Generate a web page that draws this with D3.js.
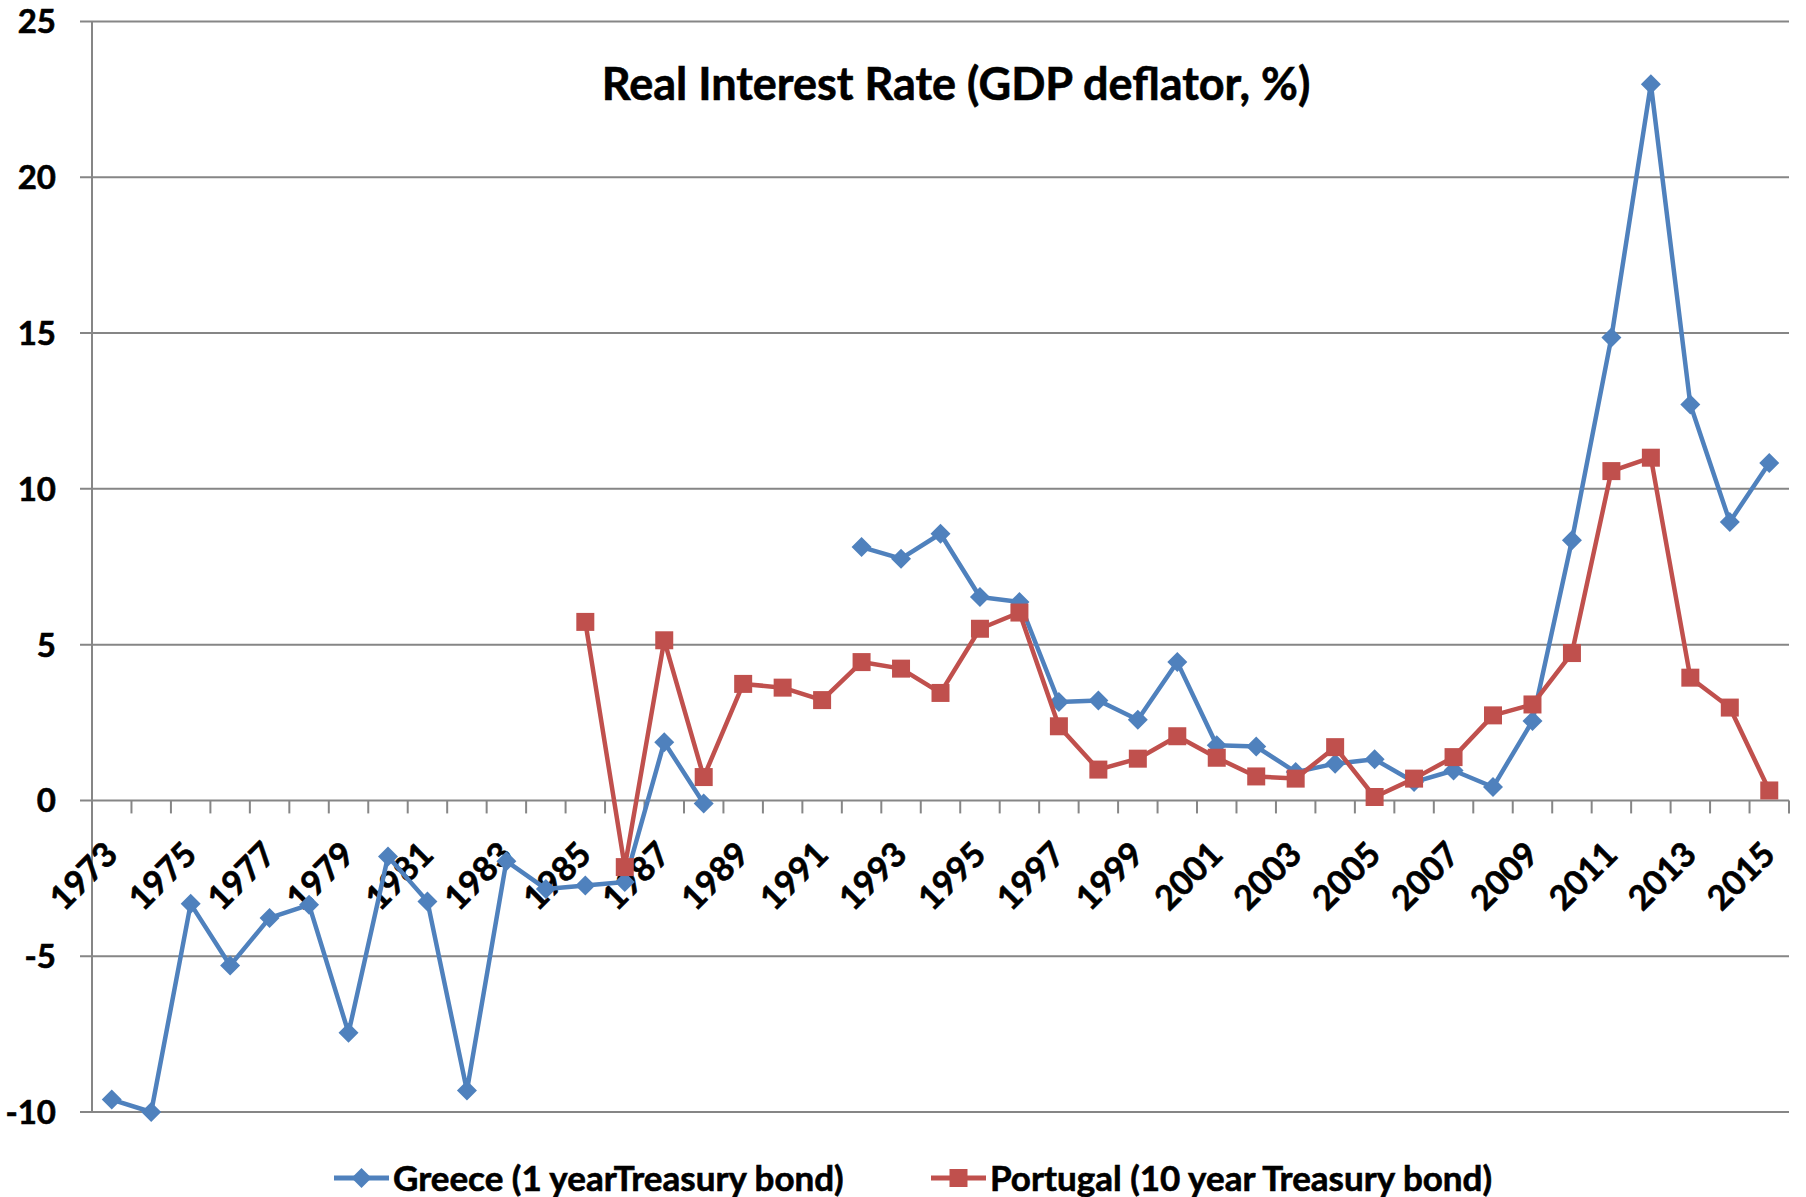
<!DOCTYPE html>
<html>
<head>
<meta charset="utf-8">
<script src="https://cdn.jsdelivr.net/npm/d3@7"></script>
<style>
  body { margin: 0; background: #fff; }
  text { font-family: Lato, "Open Sans", sans-serif; font-weight: 700; fill: #000; stroke: #000; stroke-width: 0.6px; }
</style>
</head>
<body>
<svg id="chart"></svg>
<script>
// Real interest rate, GDP deflator based (%)
var years = [1973, 1974, 1975, 1976, 1977, 1978, 1979, 1980, 1981, 1982,
             1983, 1984, 1985, 1986, 1987, 1988, 1989, 1990, 1991, 1992,
             1993, 1994, 1995, 1996, 1997, 1998, 1999, 2000, 2001, 2002,
             2003, 2004, 2005, 2006, 2007, 2008, 2009, 2010, 2011, 2012,
             2013, 2014, 2015];

var greece = [-9.6, -10.0, -3.32, -5.3, -3.77, -3.35, -7.46, -1.8, -3.24, -9.31,
              -1.95, -2.84, -2.73, -2.62, 1.87, -0.1, null, null, null, 8.13,
              7.76, 8.56, 6.53, 6.37, 3.16, 3.21, 2.59, 4.44, 1.77, 1.73,
              0.91, 1.18, 1.32, 0.59, 0.96, 0.43, 2.55, 8.35, 14.86, 22.99,
              12.71, 8.94, 10.83];

var portugal = [null, null, null, null, null, null, null, null, null, null,
                null, null, 5.73, -2.14, 5.14, 0.75, 3.74, 3.62, 3.22, 4.44,
                4.23, 3.45, 5.51, 6.03, 2.38, 0.99, 1.34, 2.06, 1.37, 0.77,
                0.70, 1.71, 0.11, 0.70, 1.39, 2.73, 3.08, 4.73, 10.57, 11.00,
                3.94, 2.98, 0.32];

var yTicks = [-10, -5, 0, 5, 10, 15, 20, 25];
var xLabelYears = [1973, 1975, 1977, 1979, 1981, 1983, 1985, 1987, 1989, 1991,
                   1993, 1995, 1997, 1999, 2001, 2003, 2005, 2007, 2009, 2011,
                   2013, 2015];

var title = "Real Interest Rate (GDP deflator, %)";
var seriesNames = ["Greece (1 yearTreasury bond)", "Portugal (10 year Treasury bond)"];
var blue = "#4F81BD", red = "#C0504D", grid = "#868686";

var width = 1806, height = 1197;
var svg = d3.select("#chart").attr("width", width).attr("height", height);

var x = d3.scaleBand().domain(years).range([92, 1789]).padding(0);
var y = d3.scaleLinear().domain([-10, 25]).range([1112, 21.5]);
var bw = x.bandwidth();

// horizontal gridlines with the small left ticks
svg.append("g").selectAll("line")
    .data(yTicks)
    .enter()
    .append("line")
    .attr("x1", 80).attr("x2", 1789)
    .attr("y1", function(d){ return y(d); })
    .attr("y2", function(d){ return y(d); })
    .attr("stroke", grid)
    .attr("stroke-width", 2);

svg.append("line")
    .attr("x1", 92).attr("x2", 92)
    .attr("y1", y(25)).attr("y2", y(-10))
    .attr("stroke", grid).attr("stroke-width", 2);

svg.append("g").selectAll("text")
    .data(yTicks)
    .enter()
    .append("text")
    .attr("x", 56)
    .attr("y", function(d){ return y(d); })
    .attr("dy", "0.36em")
    .style("text-anchor", "end")
    .style("font-size", "33px")
    .text(function(d){ return d; });

// category tick marks hang below the zero line
var bounds = years.map(function(d){ return x(d); }).concat([x.range()[1]]);
svg.append("g").selectAll("line")
    .data(bounds)
    .enter()
    .append("line")
    .attr("x1", function(d){ return d; })
    .attr("x2", function(d){ return d; })
    .attr("y1", y(0)).attr("y2", y(0) + 13)
    .attr("stroke", grid).attr("stroke-width", 2);

svg.append("g").selectAll("text")
    .data(xLabelYears)
    .enter()
    .append("text")
    .attr("transform", function(d){
        return "translate(" + (x(d) + bw / 2 + 8) + "," + (y(0) + 56) + ") rotate(-45)";
    })
    .style("text-anchor", "end")
    .style("font-size", "34px")
    .text(function(d){ return d; });

function diamond(r){ return "M0," + (-r) + "L" + r + ",0L0," + r + "L" + (-r) + ",0Z"; }
function square(s){ return "M" + (-s/2) + "," + (-s/2) + "h" + s + "v" + s + "h" + (-s) + "Z"; }

var line = d3.line()
    .defined(function(d){ return d.v !== null; })
    .x(function(d){ return x(d.year) + bw / 2; })
    .y(function(d){ return y(d.v); });

function drawSeries(values, color, marker){
    var pts = years.map(function(yr, i){ return { year: yr, v: values[i] }; });
    svg.append("path")
        .datum(pts)
        .attr("d", line)
        .attr("fill", "none")
        .attr("stroke", color)
        .attr("stroke-width", 4.5)
        .attr("stroke-linejoin", "round");
    svg.append("g").selectAll("path")
        .data(pts.filter(function(d){ return d.v !== null; }))
        .enter()
        .append("path")
        .attr("d", marker)
        .attr("transform", function(d){
            return "translate(" + (x(d.year) + bw / 2) + "," + y(d.v) + ")";
        })
        .attr("fill", color);
}

drawSeries(greece, blue, diamond(10));
drawSeries(portugal, red, square(18));

svg.append("text")
    .attr("x", 956).attr("y", 100)
    .style("text-anchor", "middle")
    .style("font-size", "45px")
    .text(title);

// legend
var legend = [
    { name: seriesNames[0], color: blue, marker: diamond(10), x: 334 },
    { name: seriesNames[1], color: red, marker: square(18), x: 931 }
];
var lg = svg.append("g").selectAll("g")
    .data(legend)
    .enter()
    .append("g")
    .attr("transform", function(d){ return "translate(" + d.x + ",1178)"; });
lg.append("line")
    .attr("x1", 0).attr("x2", 55)
    .attr("stroke", function(d){ return d.color; })
    .attr("stroke-width", 5);
lg.append("path")
    .attr("d", function(d){ return d.marker; })
    .attr("transform", "translate(27.5,0)")
    .attr("fill", function(d){ return d.color; });
lg.append("text")
    .attr("x", 59)
    .attr("dy", "0.36em")
    .style("font-size", "35px")
    .text(function(d){ return d.name; });
</script>
</body>
</html>
